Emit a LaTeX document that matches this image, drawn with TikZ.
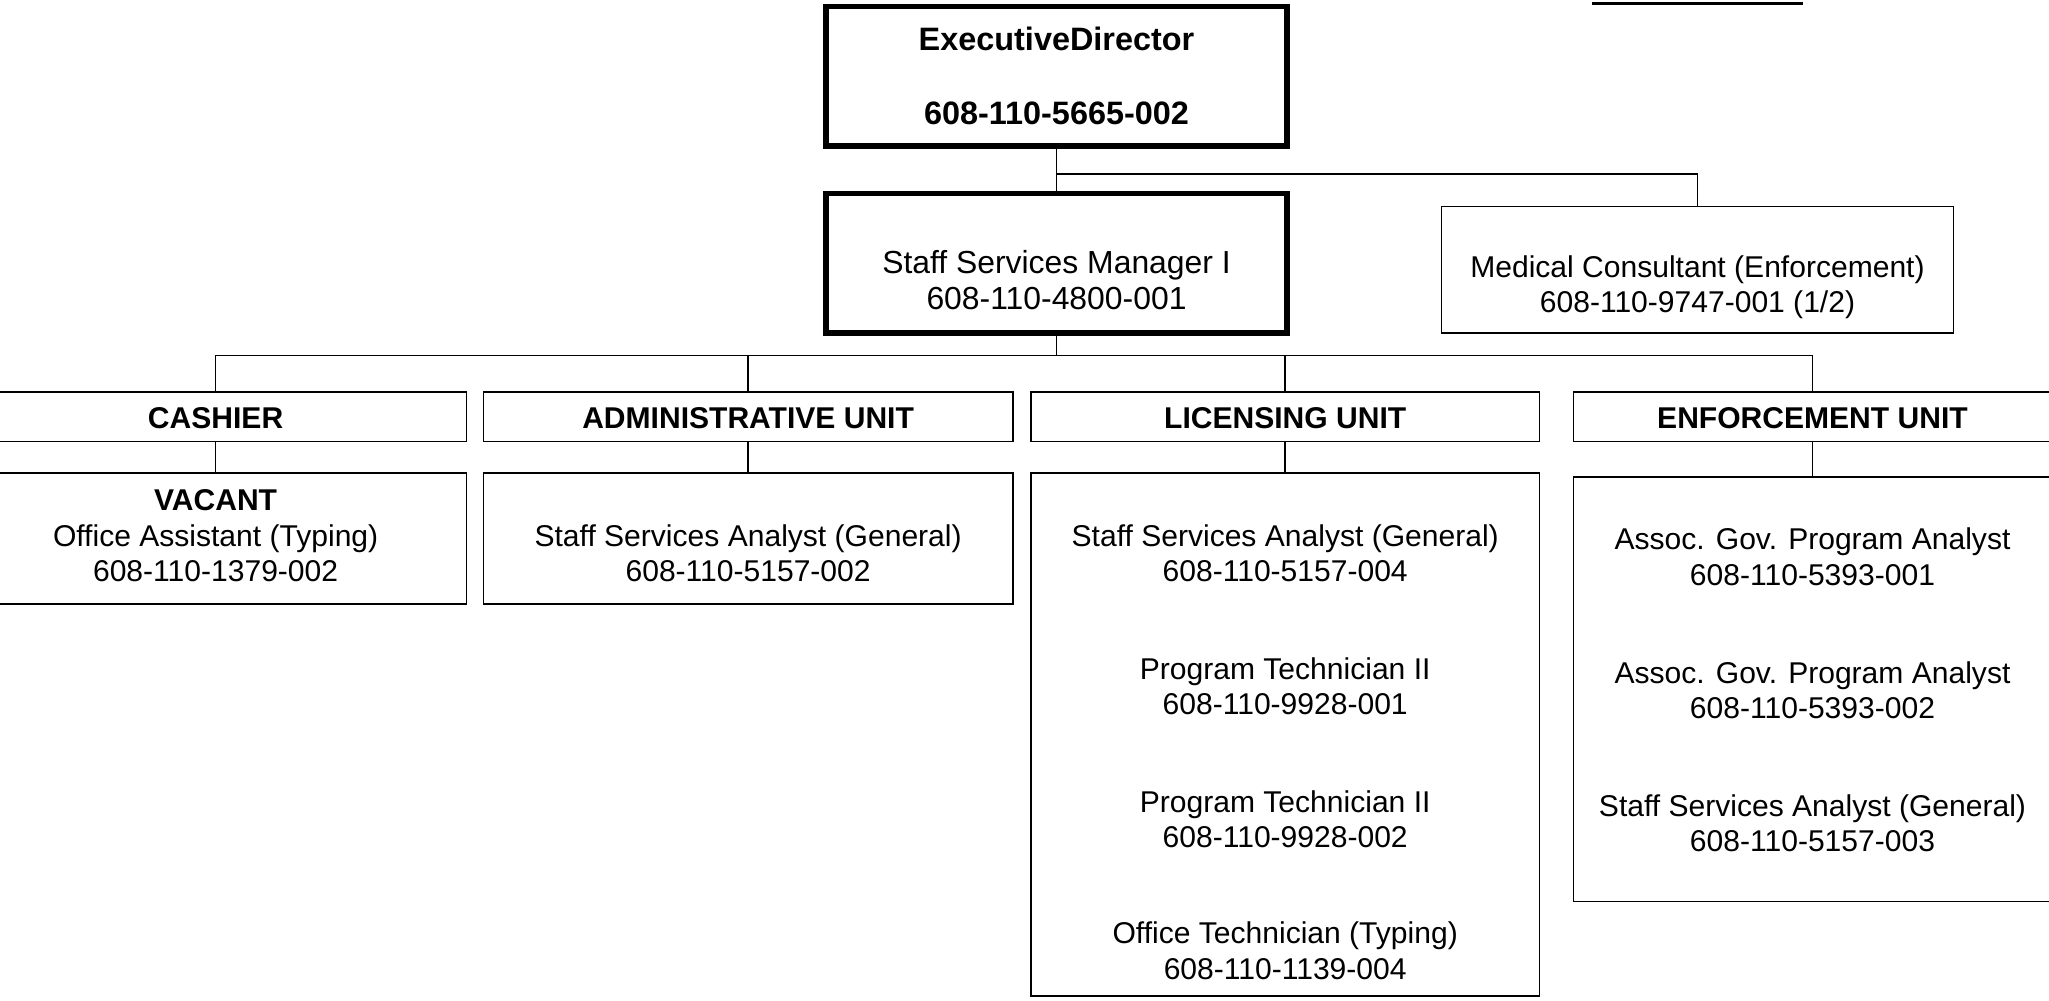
\documentclass[tikz,border=0pt]{standalone}
\usepackage{fontspec}
\setmainfont{Liberation Sans}
\begin{document}
\begin{tikzpicture}[x=0.5pt,y=-0.5pt,
  thinbox/.style={draw, line width=0.6pt, inner sep=0pt},
  thickbox/.style={draw, line width=2.2pt, inner sep=0pt},
  lbl/.style={align=center, font=\fontsize{11.5}{13.5}\selectfont, inner sep=0pt},
  blbl/.style={align=center, font=\fontsize{11.5}{13.5}\selectfont\bfseries, inner sep=0pt},
  conn/.style={line width=0.6pt}]
\useasboundingbox (0,0) rectangle (1568,766);
% boxes
\node[thickbox, minimum width=176.5pt, minimum height=53.5pt] (ed) at (808.5,58.5) {};
\node[thickbox, minimum width=176.5pt, minimum height=53.5pt] (staff) at (808.5,201.5) {};
\node[thinbox, minimum width=196pt, minimum height=48.5pt] (med) at (1299,206.5) {};
\node[thinbox, minimum width=192pt, minimum height=19pt] (cashier) at (165,319) {};
\node[thinbox, minimum width=202.5pt, minimum height=19pt] (admin) at (572.5,319) {};
\node[thinbox, minimum width=194.5pt, minimum height=19pt] (lic) at (983.5,319) {};
\node[thinbox, minimum width=183pt, minimum height=19pt] (enf) at (1387,319) {};
\node[thinbox, minimum width=192pt, minimum height=50pt] (cpos) at (165,412) {};
\node[thinbox, minimum width=202.5pt, minimum height=50pt] (apos) at (572.5,412) {};
\node[thinbox, minimum width=194.5pt, minimum height=200pt] (lpos) at (983.5,562) {};
\node[thinbox, minimum width=183pt, minimum height=162.5pt] (epos) at (1387,527.5) {};
% texts
\node[blbl, font=\fontsize{12.4}{14.5}\selectfont\bfseries] (edt1) at (808.5,30) {ExecutiveDirector};
\node[blbl, font=\fontsize{12.4}{14.5}\selectfont\bfseries] (edt2) at (808.5,87) {608-110-5665-002};
\node[lbl, font=\fontsize{12.2}{13.8}\selectfont] (st) at (808.5,214) {Staff Services Manager I\\608-110-4800-001};
\node[lbl] (mt) at (1299,220) {Medical Consultant (Enforcement)\\608-110-9747-001 (1/2)};
\node[blbl] (ct) at (165,320) {CASHIER};
\node[blbl] (at) at (572.5,320) {ADMINISTRATIVE UNIT};
\node[blbl] (lt) at (983.5,320) {LICENSING UNIT};
\node[blbl] (et) at (1387,320) {ENFORCEMENT UNIT};
\node[lbl] (cp) at (165,410) {\textbf{VACANT}\\Office Assistant (Typing)\\608-110-1379-002};
\node[lbl] (ap) at (572.5,423.5) {Staff Services Analyst (General)\\608-110-5157-002};
\node[lbl] (lp1) at (983.5,423.5) {Staff Services Analyst (General)\\608-110-5157-004};
\node[lbl] (lp2) at (983.5,525) {Program Technician II\\608-110-9928-001};
\node[lbl] (lp3) at (983.5,627) {Program Technician II\\608-110-9928-002};
\node[lbl] (lp4) at (983.5,727.5) {Office Technician (Typing)\\608-110-1139-004};
\node[lbl] (ep1) at (1387,426) {Assoc. Gov. Program Analyst\\608-110-5393-001};
\node[lbl] (ep2) at (1387,528) {Assoc. Gov. Program Analyst\\608-110-5393-002};
\node[lbl] (ep3) at (1387,630) {Staff Services Analyst (General)\\608-110-5157-003};
% connectors
\coordinate (j1) at (808.5,133);
\coordinate (bus) at (808.5,272);
\draw[conn] (ed.south) -- (staff.north);
\draw[conn] (j1) -| (med.north);
\draw[conn] (staff.south) -- (bus);
\draw[conn] (bus) -| (cashier.north);
\draw[conn] (bus) -| (admin.north);
\draw[conn] (bus) -| (lic.north);
\draw[conn] (bus) -| (enf.north);
\draw[conn] (cashier.south) -- (cpos.north);
\draw[conn] (admin.south) -- (apos.north);
\draw[conn] (lic.south) -- (lpos.north);
\draw[conn] (enf.south) -- (epos.north);
% stray line top right
\coordinate (tl1) at (1218,3);
\coordinate (tl2) at (1380,3);
\draw[line width=1.2pt] (tl1) -- (tl2);
\end{tikzpicture}
\end{document}
